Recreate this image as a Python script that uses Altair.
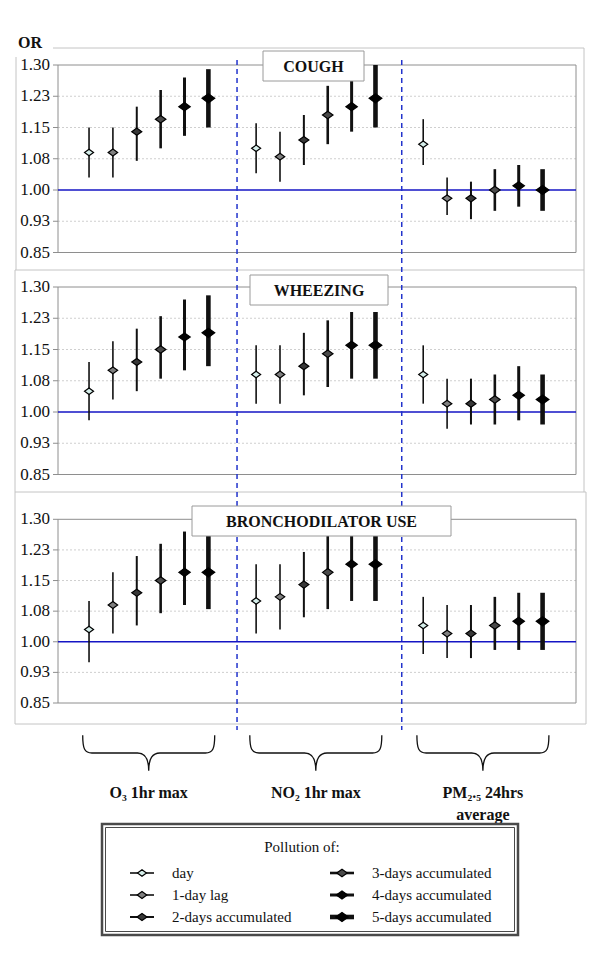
import altair as alt
import pandas as pd

# ---------------- data ----------------
lags = ["day", "1-day lag", "2-days accumulated", "3-days accumulated",
        "4-days accumulated", "5-days accumulated"]
pollutants = ["O₃ 1hr max", "NO₂ 1hr max", "PM₂.₅ 24hrs\naverage"]
outcomes = ["COUGH", "WHEEZING", "BRONCHODILATOR USE"]

# order: O3 (6 lags), NO2 (6 lags), PM2.5 (6 lags)
cough_or = [1.09, 1.09, 1.14, 1.17, 1.20, 1.22, 1.10, 1.08, 1.12, 1.18, 1.20, 1.22, 1.11, 0.98, 0.98, 1.00, 1.01, 1.00]
cough_lo = [1.03, 1.03, 1.07, 1.10, 1.13, 1.15, 1.04, 1.02, 1.06, 1.11, 1.14, 1.15, 1.06, 0.94, 0.93, 0.95, 0.96, 0.95]
cough_hi = [1.15, 1.15, 1.20, 1.24, 1.27, 1.29, 1.16, 1.14, 1.18, 1.25, 1.27, 1.30, 1.17, 1.03, 1.02, 1.05, 1.06, 1.05]

wheeze_or = [1.05, 1.10, 1.12, 1.15, 1.18, 1.19, 1.09, 1.09, 1.11, 1.14, 1.16, 1.16, 1.09, 1.02, 1.02, 1.03, 1.04, 1.03]
wheeze_lo = [0.98, 1.03, 1.05, 1.08, 1.10, 1.11, 1.02, 1.02, 1.04, 1.06, 1.08, 1.08, 1.02, 0.96, 0.97, 0.97, 0.98, 0.97]
wheeze_hi = [1.12, 1.17, 1.20, 1.23, 1.27, 1.28, 1.16, 1.16, 1.19, 1.22, 1.24, 1.24, 1.16, 1.08, 1.08, 1.09, 1.11, 1.09]

broncho_or = [1.03, 1.09, 1.12, 1.15, 1.17, 1.17, 1.10, 1.11, 1.14, 1.17, 1.19, 1.19, 1.04, 1.02, 1.02, 1.04, 1.05, 1.05]
broncho_lo = [0.95, 1.02, 1.04, 1.07, 1.09, 1.08, 1.02, 1.03, 1.06, 1.08, 1.10, 1.10, 0.97, 0.96, 0.96, 0.98, 0.98, 0.98]
broncho_hi = [1.10, 1.17, 1.21, 1.24, 1.27, 1.27, 1.19, 1.19, 1.22, 1.27, 1.29, 1.29, 1.11, 1.09, 1.09, 1.11, 1.12, 1.12]

tick_values = [0.85, 0.925, 1.00, 1.075, 1.15, 1.225, 1.30]
tick_labels = ["0.85", "0.93", "1.00", "1.08", "1.15", "1.23", "1.30"]
grid_values = [0.925, 1.075, 1.15, 1.225]

# ---------------- styling ----------------
fills = ["#d6efeb", "#808080", "#383838", "#4a4a4a", "#050505", "#000000"]
widths = [1.6, 1.6, 2.0, 2.6, 3.0, 4.6]
sizes = [81, 90, 100, 110, 130, 160]
DIAMOND = "M-1,0L0,-0.72L1,0L0,0.72Z"
BRACE = ("M-1,-0.27C-1,-0.06,-0.97,0,-0.86,0L-0.17,0C-0.06,0,0,0.08,0,0.27"
         "C0,0.08,0.06,0,0.17,0L0.86,0C0.97,0,1,-0.06,1,-0.27")
SERIF = "Times New Roman, Liberation Serif, serif"

X_DOMAIN = [-1.3, 20.4]
X_RANGE = [50, 568]


def xs():
    return alt.Scale(domain=X_DOMAIN, range=X_RANGE, zero=False, nice=False)


def ys(r):
    return alt.Scale(domain=[0.85, 1.30], range=r, zero=False, nice=False)


fill_enc = alt.Fill("lag:N", scale=alt.Scale(domain=lags, range=fills), legend=None)
size_enc = alt.Size("lag:N", scale=alt.Scale(type="ordinal", domain=lags, range=sizes), legend=None)
sw_enc = alt.StrokeWidth("lag:N", scale=alt.Scale(type="ordinal", domain=lags, range=widths), legend=None)

ONE = pd.DataFrame({"k": [0]})


def vrule(x1, y1, x2, y2, **kw):
    return alt.Chart(ONE).mark_rule(**kw).encode(
        x=alt.value(x1), x2=alt.value(x2), y=alt.value(y1), y2=alt.value(y2))


def vrect(x1, y1, x2, y2, **kw):
    return alt.Chart(ONE).mark_rect(**kw).encode(
        x=alt.value(x1), x2=alt.value(x2), y=alt.value(y1), y2=alt.value(y2))


def vtext(txt, x, y, **kw):
    return alt.Chart(ONE).mark_text(text=txt, **kw).encode(x=alt.value(x), y=alt.value(y))


panels = [
    dict(name=outcomes[0], OR=cough_or, lo=cough_lo, hi=cough_hi, yr=[244.5, 57], box=(255, 43, 356, 73)),
    dict(name=outcomes[1], OR=wheeze_or, lo=wheeze_lo, hi=wheeze_hi, yr=[466.5, 279], box=(242, 267, 380, 297)),
    dict(name=outcomes[2], OR=broncho_or, lo=broncho_lo, hi=broncho_hi, yr=[695, 511.3], box=(184, 498, 443, 528)),
]

layers = []
GREY = "#c4c4c4"

# outer chart-area frames
layers += [
    vrule(45, 40, 576, 40, color=GREY), vrule(8, 49, 8, 262, color=GREY), vrule(576, 40, 576, 262, color=GREY),
    vrule(7, 262, 576, 262, color=GREY), vrule(7, 262, 7, 484, color=GREY), vrule(576, 262, 576, 484, color=GREY),
    vrule(7, 484, 578, 484, color=GREY), vrule(7, 484, 7, 716, color=GREY), vrule(578, 484, 578, 716, color=GREY),
    vrule(7, 716, 578, 716, color=GREY),
]

ticks_df = pd.DataFrame({"v": tick_values, "label": tick_labels})
grid_df = pd.DataFrame({"v": grid_values})
frame_df = pd.DataFrame({"lo": [0.85], "hi": [1.30], "one": [1.0]})

for p in panels:
    rows = []
    for i in range(18):
        g, l = divmod(i, 6)
        rows.append(dict(pollutant=pollutants[g], lag=lags[l], pos=g * 7 + l,
                         OR=p["OR"][i], lo=p["lo"][i], hi=p["hi"][i]))
    df = pd.DataFrame(rows)
    yr = p["yr"]
    # grid lines
    layers.append(alt.Chart(grid_df).mark_rule(color="#cfcfcf", strokeWidth=1, strokeDash=[2, 2]).encode(
        x=alt.value(50), x2=alt.value(568), y=alt.Y("v:Q", scale=ys(yr), axis=None)))
    # plot frame
    layers.append(alt.Chart(frame_df).mark_rect(fillOpacity=0, stroke="#8e8e8e", strokeWidth=1).encode(
        x=alt.value(50), x2=alt.value(568), y=alt.Y("lo:Q", scale=ys(yr), axis=None), y2="hi:Q"))
    # tick marks & labels
    layers.append(alt.Chart(ticks_df).mark_rule(color="#8e8e8e").encode(
        x=alt.value(45), x2=alt.value(50), y=alt.Y("v:Q", scale=ys(yr), axis=None)))
    layers.append(alt.Chart(ticks_df).mark_text(font=SERIF, fontSize=17, align="right", baseline="middle",
                                                color="#111").encode(
        x=alt.value(42), y=alt.Y("v:Q", scale=ys(yr), axis=None), text="label:N"))
    # reference line OR = 1
    layers.append(alt.Chart(frame_df).mark_rule(color="#1515c4", strokeWidth=1.6).encode(
        x=alt.value(50), x2=alt.value(568), y=alt.Y("one:Q", scale=ys(yr), axis=None)))
    p["df"] = df

# dashed separators between pollutant groups
sep_df = pd.DataFrame({"s": [6.2, 13.1]})
layers.append(alt.Chart(sep_df).mark_rule(color="#2233cc", strokeWidth=1.5, strokeDash=[5, 4]).encode(
    x=alt.X("s:Q", scale=xs(), axis=None), y=alt.value(52), y2=alt.value(722)))

for p in panels:
    df, yr = p["df"], p["yr"]
    layers.append(alt.Chart(df).mark_rule(color="#111").encode(
        x=alt.X("pos:Q", scale=xs(), axis=None),
        y=alt.Y("lo:Q", scale=ys(yr), axis=None), y2="hi:Q", strokeWidth=sw_enc))
    layers.append(alt.Chart(df).mark_point(shape=DIAMOND, filled=True, stroke="#000", strokeWidth=1.2,
                                           opacity=1).encode(
        x=alt.X("pos:Q", scale=xs(), axis=None),
        y=alt.Y("OR:Q", scale=ys(yr), axis=None), fill=fill_enc, size=size_enc))
    x1, y1, x2, y2 = p["box"]
    layers.append(vrect(x1, y1, x2, y2, fill="white", stroke="#9a9a9a", strokeWidth=1))
    layers.append(vtext(p["name"], (x1 + x2) / 2, (y1 + y2) / 2 + 1, font=SERIF, fontSize=16,
                        fontWeight="bold", align="center", baseline="middle", color="#111"))

# "OR" axis label
layers.append(vtext("OR", 10, 35, font=SERIF, fontSize=16, fontWeight="bold", align="left",
                    baseline="middle", color="#111"))

# braces and pollutant labels
grp_df = pd.DataFrame({"pollutant": pollutants, "c": [2.5, 9.5, 16.5]})
layers.append(alt.Chart(grp_df).mark_point(shape=BRACE, filled=False, stroke="#111", strokeWidth=1.3,
                                           size=17424, opacity=1).encode(
    x=alt.X("c:Q", scale=xs(), axis=None), y=alt.value(745)))
layers.append(alt.Chart(grp_df).mark_text(font=SERIF, fontSize=16, fontWeight="bold", align="center",
                                          baseline="alphabetic", lineBreak="\n", lineHeight=22,
                                          color="#111").encode(
    x=alt.X("c:Q", scale=xs(), axis=None), y=alt.value(790), text="pollutant:N"))

# legend box
layers.append(vrect(94, 816, 510, 927, fill="white", stroke="#4a4a4a", strokeWidth=2.5))
layers.append(vrect(97.5, 819.5, 506.5, 923.5, fillOpacity=0, stroke="#4a4a4a", strokeWidth=1))
layers.append(vtext("Pollution of:", 294, 839, font=SERIF, fontSize=15, align="center",
                    baseline="middle", color="#111"))
leg_x = [134, 134, 134, 334, 334, 334]
leg_y = [865, 887, 909, 865, 887, 909]
leg_df = pd.DataFrame({"lag": lags, "lx": leg_x, "ly": leg_y})
leg_df["lx1"] = leg_df["lx"] - 12
leg_df["lx2"] = leg_df["lx"] + 12
leg_df["tx"] = leg_df["lx"] + 30
layers.append(alt.Chart(leg_df).mark_rule(color="#111").encode(
    x=alt.X("lx1:Q", scale=None), x2="lx2:Q", y=alt.Y("ly:Q", scale=None), strokeWidth=sw_enc))
layers.append(alt.Chart(leg_df).mark_point(shape=DIAMOND, filled=True, stroke="#000", strokeWidth=1.2,
                                           opacity=1).encode(
    x=alt.X("lx:Q", scale=None), y=alt.Y("ly:Q", scale=None), fill=fill_enc, size=size_enc))
layers.append(alt.Chart(leg_df).mark_text(font=SERIF, fontSize=15, align="left", baseline="middle",
                                          color="#111").encode(
    x=alt.X("tx:Q", scale=None), y=alt.Y("ly:Q", scale=None), text="lag:N"))

chart = alt.layer(*layers).resolve_scale(
    x="independent", y="independent"
).properties(
    width=584, height=941, autosize=alt.AutoSizeParams(type="none"), padding=0,
    background="white"
).configure_view(stroke=None)

chart.save("out.html", embed_options={"renderer": "svg", "actions": False})
